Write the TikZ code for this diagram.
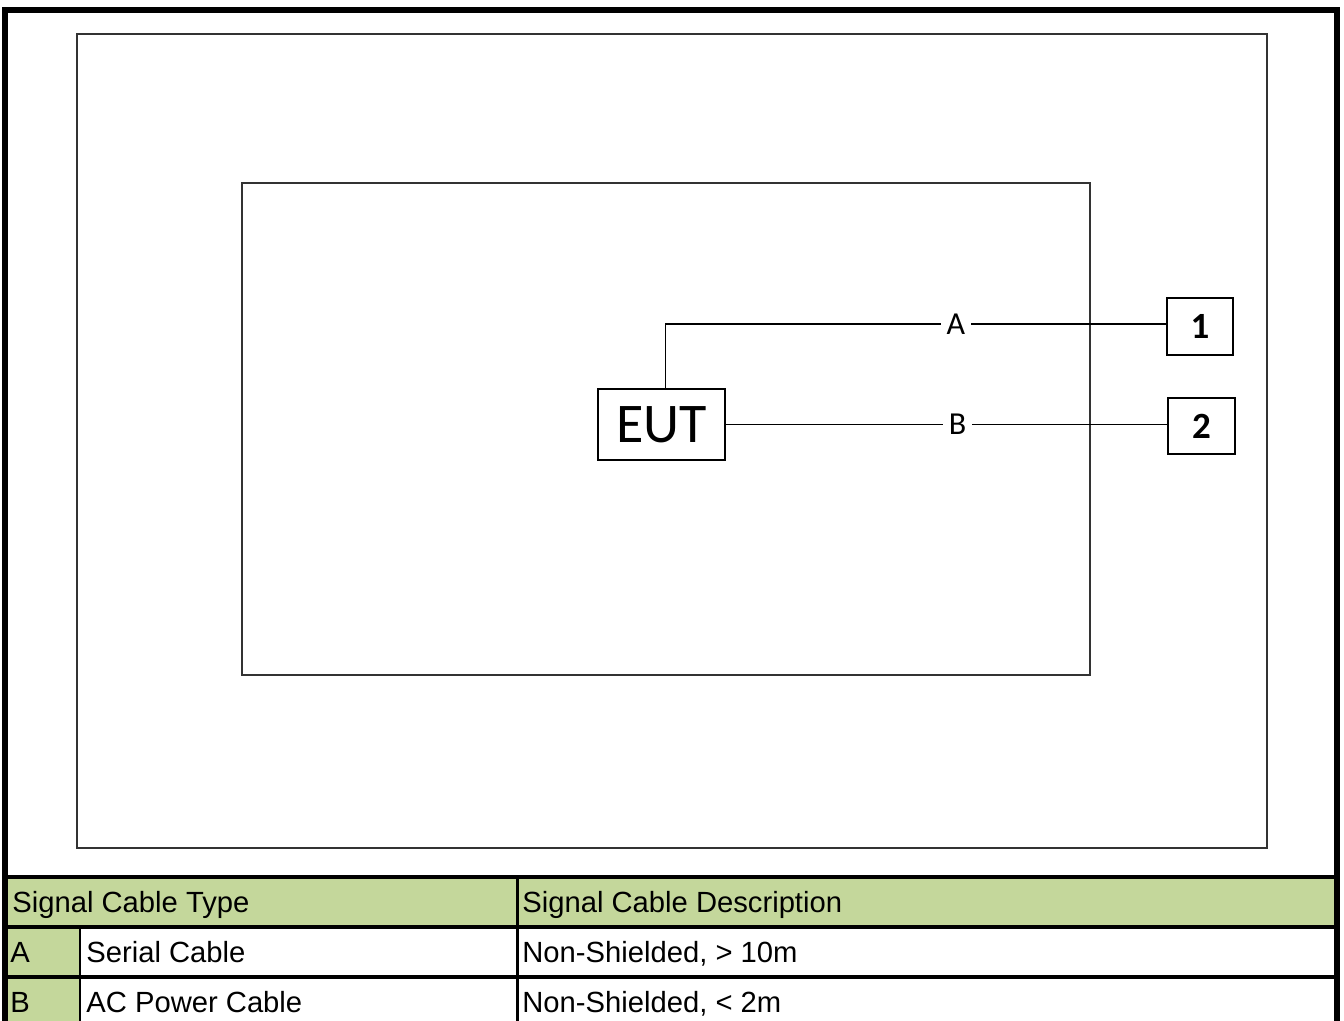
\documentclass[tikz,border=0pt]{standalone}
\usepackage{fontspec}
\setmainfont{Liberation Sans}
\newfontfamily\diagfont{Carlito}
\usetikzlibrary{positioning}
\definecolor{cellgreen}{HTML}{C4D79B}
\definecolor{framegray}{HTML}{333333}

\begin{document}
\begin{tikzpicture}[x=0.5pt,y=-0.5pt,
    unitbox/.style={draw,line width=0.7pt,inner sep=0pt,font=\diagfont},
    cablelabel/.style={fill=white,inner sep=3pt,font=\diagfont\fontsize{16}{17}\selectfont},
    cell/.style={anchor=base west,inner sep=0pt,font=\fontsize{14.6}{16}\selectfont}]
  \useasboundingbox (0,0) rectangle (1344,1021);
  \clip (0,0) rectangle (1344,1021);
  % Table fills
  \fill[cellgreen] (5,877) rectangle (1337,926.5);
  \fill[cellgreen] (5,926.5) rectangle (80,1040);
  % Outer frame
  \draw[line width=3pt] (5,1040) |- (1337,10) -- (1337,1040);
  % Test site and table
  \draw[framegray,line width=1pt] (77,34) rectangle (1267,848);
  \draw[framegray,line width=0.8pt] (242,183) rectangle (1090,675);
  % Units
  \node[unitbox,minimum width=63.5pt,minimum height=35.5pt,font=\diagfont\fontsize{28}{30}\selectfont] (eut) at (661.5,424.5) {EUT};
  \node[unitbox,minimum width=33pt,minimum height=28.5pt,font=\diagfont\bfseries\fontsize{18.5}{20}\selectfont] (one) at (1200,326.5) {1};
  \node[unitbox,minimum width=33.5pt,minimum height=28pt,font=\diagfont\bfseries\fontsize{18.5}{20}\selectfont] (two) at (1201.5,426) {2};
  % Cables
  \draw[line width=0.6pt] ([xshift=2pt]eut.north) |- node[cablelabel,pos=0.79] {A} ([yshift=1.2pt]one.west);
  \draw[line width=0.6pt] (eut.east) -- node[cablelabel,pos=0.525] {B} (eut.east -| two.west);
  % Table rules
  \foreach \y in {877,926.5,976.5}
    \draw[line width=2pt] (5,\y) -- (1337,\y);
  \draw[line width=1.5pt] (517,877) -- (517,1040);
  \draw[line width=1pt] (80,926.5) -- (80,1040);
  % Table texts
  \node[cell] (hdtype) at (12,912) {Signal Cable Type};
  \node[cell] (hddesc) at (522,912) {Signal Cable Description};
  \node[cell] (ida) at (10,962) {A};
  \node[cell] (typea) at (86,962) {Serial Cable};
  \node[cell] (desca) at (522,962) {Non-Shielded, > 10m};
  \node[cell] (idb) at (10,1012) {B};
  \node[cell] (typeb) at (86,1012) {AC Power Cable};
  \node[cell] (descb) at (522,1012) {Non-Shielded, < 2m};
\end{tikzpicture}
\end{document}
